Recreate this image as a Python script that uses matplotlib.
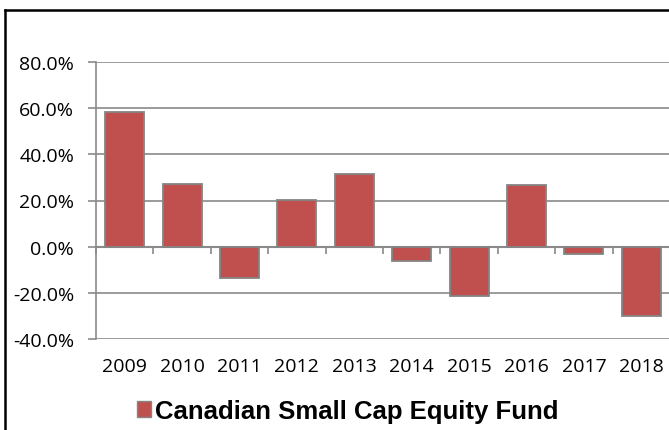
import matplotlib.pyplot as plt
import numpy as np
from matplotlib.lines import Line2D
from matplotlib.patches import Patch

years = ['2009', '2010', '2011', '2012', '2013', '2014', '2015', '2016', '2017', '2018']
returns = [58.2, 27.0, -13.5, 20.2, 31.5, -6.1, -21.2, 26.8, -3.0, -29.9]
yticks = [-40, -20, 0, 20, 40, 60, 80]
series_name = 'Canadian Small Cap Equity Fund'

bar_color = '#C0504D'
edge_color = '#858585'
grid_color = '#8a8a8a'

fig = plt.figure(figsize=(6.69, 4.31), dpi=100)
ax = fig.add_axes([96 / 669, 1 - 340 / 431, 574 / 669, 277 / 431])

x = np.arange(len(years))
ax.bar(x, returns, width=0.68, color=bar_color, edgecolor=edge_color,
       linewidth=1.3, zorder=3)

ax.set_xlim(-0.5, len(years) - 0.5)
ax.set_ylim(-40, 80)
ax.set_yticks(yticks)
ax.set_yticklabels([f'{v:.1f}%' for v in yticks], fontsize=14, family='Open Sans')
ax.yaxis.grid(True, color=grid_color, linewidth=1.2)
ax.tick_params(axis='y', length=5.8, width=1.2, color=grid_color, pad=10)

ax.set_xticks(x)
ax.set_xticklabels(years, fontsize=14, family='Open Sans')
ax.tick_params(axis='x', length=0, pad=13)

for s in ['top', 'right', 'bottom']:
    ax.spines[s].set_visible(False)
ax.spines['left'].set_color(grid_color)
ax.spines['left'].set_linewidth(1.2)

# axis line at 0 with ticks between categories
zero_ax = ax.secondary_xaxis((0 - (-40)) / 120)
zero_ax.set_xticks(np.arange(len(years) + 1) - 0.5)
zero_ax.set_xticklabels([])
zero_ax.tick_params(length=5, width=1.2, color=grid_color, direction='out')
zero_ax.spines['bottom'].set_color(grid_color)
zero_ax.spines['bottom'].set_linewidth(1.5)

# legend
handle = Patch(facecolor=bar_color, edgecolor=edge_color, linewidth=1)
fig.legend([handle], [series_name], loc='center', bbox_to_anchor=(348 / 669, 1 - 412 / 431),
           frameon=False, prop={'family': 'Liberation Sans', 'weight': 'bold', 'size': 18.5},
           handlelength=0.55, handleheight=0.55, handletextpad=0.15)

# outer chart border (left and top edges)
fig.add_artist(Line2D([5 / 669, 5 / 669], [0, 1 - 11 / 431], color='black', linewidth=1.8))
fig.add_artist(Line2D([5 / 669, 1], [1 - 11 / 431, 1 - 11 / 431], color='black', linewidth=1.8))

fig.savefig('out.png', dpi=100)
